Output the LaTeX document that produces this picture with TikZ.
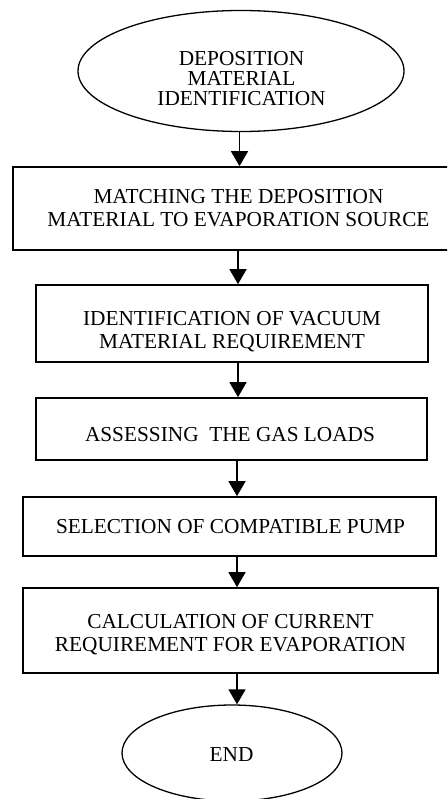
\documentclass[tikz,border=0pt]{standalone}
\usepackage{fontspec}
\setmainfont{Liberation Serif}
\usetikzlibrary{shapes.geometric,arrows.meta}
\begin{document}
\begin{tikzpicture}[x=1pt,y=-1pt,
  boxshape/.style={draw,line width=1.7pt,rectangle,inner sep=0pt},
  ovalshape/.style={draw,line width=1.3pt,ellipse,inner sep=0pt},
  txt/.style={inner sep=0pt,align=center,font=\fontsize{21.3}{23}\selectfont},
  ovaltxt/.style={inner sep=0pt,align=center,font=\fontsize{21.3}{20}\selectfont},
  flow/.style={line width=1.6pt,-{Triangle[length=15pt,width=17pt]}}]
\clip (0,0) rectangle (447,799);
\fill[white] (0,0) rectangle (447,799);
% shapes
\node[ovalshape,minimum width=326pt,minimum height=121pt] (start) at (241,71) {};
\node[boxshape,minimum width=452pt,minimum height=83pt] (b1) at (239,208.5) {};
\node[boxshape,minimum width=392pt,minimum height=77pt] (b2) at (232,323.5) {};
\node[boxshape,minimum width=391pt,minimum height=62pt] (b3) at (231.5,429) {};
\node[boxshape,minimum width=413pt,minimum height=59pt] (b4) at (229.5,526.5) {};
\node[boxshape,minimum width=415pt,minimum height=85pt] (b5) at (230.5,630.5) {};
\node[ovalshape,minimum width=220pt,minimum height=96pt] (stop) at (232,753) {};
% texts
\node[ovaltxt] (t0) at (241.5,79) {DEPOSITION\\MATERIAL\\IDENTIFICATION};
\node[txt] (t1) at (238.5,208) {MATCHING THE DEPOSITION\\MATERIAL TO EVAPORATION SOURCE};
\node[txt] (t2) at (232,332) {IDENTIFICATION OF VACUUM\\MATERIAL REQUIREMENT};
\node[txt] (t3) at (230,434.5) {ASSESSING\ \ THE GAS LOADS};
\node[txt] (t4) at (230.5,526.5) {SELECTION OF COMPATIBLE PUMP};
\node[txt] (t5) at (230.5,635) {CALCULATION OF CURRENT\\REQUIREMENT FOR EVAPORATION};
\node[txt] (t6) at (231.5,754.5) {END};
% connectors
\coordinate (ax1) at (239.5,0);
\coordinate (ax2) at (238,0);
\coordinate (ax3) at (237,0);
\draw[flow] (start.south -| ax1) -- (b1.north -| ax1);
\draw[flow] (b1.south -| ax2) -- (b2.north -| ax2);
\draw[flow] (b2.south -| ax2) -- (b3.north -| ax2);
\draw[flow] (b3.south -| ax3) -- (b4.north -| ax3);
\draw[flow] (b4.south -| ax3) -- (b5.north -| ax3);
\draw[flow] (b5.south -| ax3) -- (stop.north -| ax3);
\end{tikzpicture}
\end{document}
